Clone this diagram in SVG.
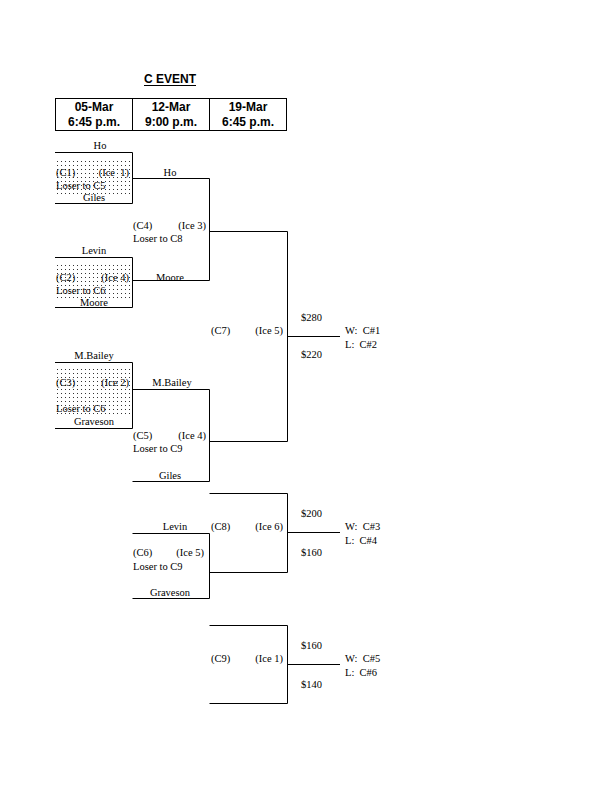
<svg xmlns="http://www.w3.org/2000/svg" width="612" height="792" viewBox="0 0 612 792">
<defs>
<pattern id="dots" width="4" height="4" patternUnits="userSpaceOnUse">
<rect x="1" y="1" width="1" height="1" fill="#333"/>
</pattern>
</defs>
<style>
.ln{stroke:#000;stroke-width:1;fill:none}
.t{font-family:"Liberation Serif","Times New Roman",serif;font-size:10.5px;fill:#000;white-space:pre}
.m{text-anchor:middle}
.e{text-anchor:end}
.h{font-family:"Liberation Sans",Arial,sans-serif;font-weight:bold;font-size:12px;fill:#000;text-anchor:middle}
</style>
<rect width="612" height="792" fill="#fff"/>
<g id="header">
<text class="h" x="170" y="83">C EVENT</text>
<line x1="144" y1="85.5" x2="196" y2="85.5" stroke="#000" stroke-width="1"/>
<rect x="55.5" y="98.5" width="231" height="32" class="ln"/>
<line x1="132.5" y1="98.5" x2="132.5" y2="130.5" class="ln"/>
<line x1="209.5" y1="98.5" x2="209.5" y2="130.5" class="ln"/>
<text class="h" x="94" y="111">05-Mar</text>
<text class="h" x="94" y="126">6:45 p.m.</text>
<text class="h" x="171" y="111">12-Mar</text>
<text class="h" x="171" y="126">9:00 p.m.</text>
<text class="h" x="248" y="111">19-Mar</text>
<text class="h" x="248" y="126">6:45 p.m.</text>
</g>
<g id="C1">
<rect x="55" y="161" width="76" height="34" fill="url(#dots)"/>
<text class="t m" x="100" y="149">Ho</text>
<text class="t" x="56" y="176">(C1)</text>
<text class="t e" x="129" y="176" xml:space="preserve">(Ice  1)</text>
<text class="t" x="56" y="189">Loser to C5</text>
<text class="t m" x="94" y="201">Giles</text>
</g>
<g id="C2">
<rect x="55" y="265" width="76" height="34" fill="url(#dots)"/>
<text class="t m" x="94" y="254">Levin</text>
<text class="t" x="56" y="281">(C2)</text>
<text class="t e" x="129" y="281">(Ice 4)</text>
<text class="t" x="56" y="294">Loser to C6</text>
<text class="t m" x="94" y="306">Moore</text>
</g>
<g id="C3">
<rect x="55" y="369" width="76" height="45" fill="url(#dots)"/>
<text class="t m" x="94" y="359">M.Bailey</text>
<text class="t" x="56" y="386">(C3)</text>
<text class="t e" x="129" y="386">(Ice 2)</text>
<text class="t" x="56" y="412">Loser to C6</text>
<text class="t m" x="94" y="425">Graveson</text>
</g>
<g id="C4">
<text class="t m" x="170" y="176">Ho</text>
<text class="t" x="133" y="229">(C4)</text>
<text class="t e" x="206" y="229">(Ice 3)</text>
<text class="t" x="133" y="242">Loser to C8</text>
<text class="t m" x="170" y="281">Moore</text>
</g>
<g id="C5">
<text class="t m" x="172" y="386">M.Bailey</text>
<text class="t" x="133" y="439">(C5)</text>
<text class="t e" x="206" y="439">(Ice 4)</text>
<text class="t" x="133" y="452">Loser to C9</text>
<text class="t m" x="170" y="479">Giles</text>
</g>
<g id="C6">
<text class="t m" x="175" y="530">Levin</text>
<text class="t" x="133" y="556">(C6)</text>
<text class="t e" x="204" y="556">(Ice 5)</text>
<text class="t" x="133" y="570">Loser to C9</text>
<text class="t m" x="170" y="596">Graveson</text>
</g>
<g id="C7">
<text class="t" x="211" y="334">(C7)</text>
<text class="t e" x="283" y="334">(Ice 5)</text>
<text class="t" x="301" y="321">$280</text>
<text class="t" x="301" y="358">$220</text>
<text class="t" x="345" y="334" xml:space="preserve">W:  C#1</text>
<text class="t" x="345" y="348" xml:space="preserve">L:  C#2</text>
</g>
<g id="C8">
<text class="t" x="211" y="530">(C8)</text>
<text class="t e" x="283" y="530">(Ice 6)</text>
<text class="t" x="301" y="517">$200</text>
<text class="t" x="301" y="556">$160</text>
<text class="t" x="345" y="530" xml:space="preserve">W:  C#3</text>
<text class="t" x="345" y="544" xml:space="preserve">L:  C#4</text>
</g>
<g id="C9">
<text class="t" x="211" y="662">(C9)</text>
<text class="t e" x="283" y="662">(Ice 1)</text>
<text class="t" x="301" y="649">$160</text>
<text class="t" x="301" y="688">$140</text>
<text class="t" x="345" y="662" xml:space="preserve">W:  C#5</text>
<text class="t" x="345" y="676" xml:space="preserve">L:  C#6</text>
</g>
<g id="connectors" class="ln">
<path class="ln" d="M55 152.5H132.5V203.5H55"/>
<path class="ln" d="M55 257.5H132.5V307.5H55"/>
<path class="ln" d="M55 362.5H132.5V428.5H55"/>
<path class="ln" d="M132.5 178.5H209.5V280.5H132.5"/>
<path class="ln" d="M132.5 389.5H209.5V481.5H132.5"/>
<path class="ln" d="M209.5 231.5H287.5V441.5H209.5"/>
<path class="ln" d="M287.5 336.5H340"/>
<path class="ln" d="M132.5 533.5H209.5V598.5H132.5"/>
<path class="ln" d="M209.5 493.5H287.5V572.5H209.5"/>
<path class="ln" d="M287.5 532.5H340"/>
<path class="ln" d="M209.5 625.5H287.5V703.5H209.5"/>
<path class="ln" d="M287.5 664.5H340"/>
</g>
</svg>
